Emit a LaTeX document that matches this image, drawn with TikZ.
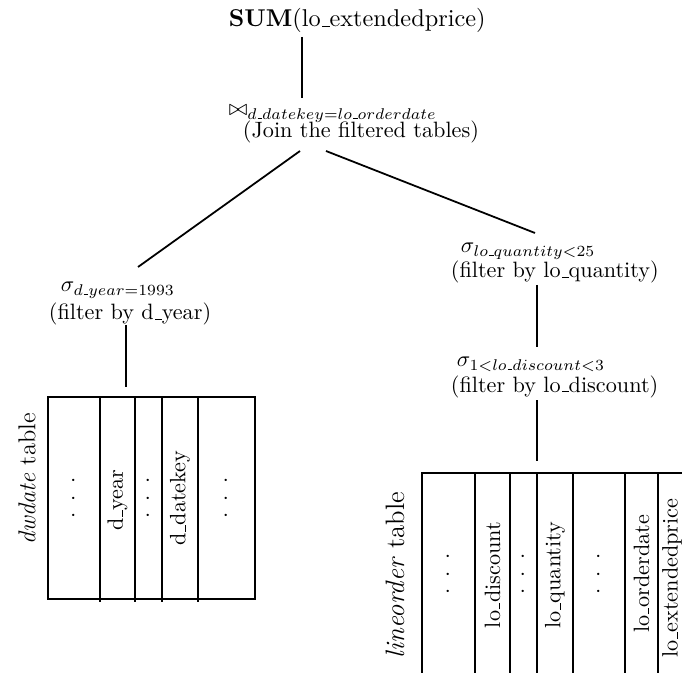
\documentclass[tikz,border=0pt]{standalone}
\usepackage{amsmath}
% short ruled underscore, usable in text and in subscripts
\newcommand\usrule{\leavevmode\kern.06em\vbox{\hrule width.3em}}
\renewcommand\_{\ifmmode\text{\usrule}\else\usrule\fi}
\newcommand\coldots{$\cdot$\hspace{5pt}$\cdot$\hspace{5pt}$\cdot$}
\begin{document}
\begin{tikzpicture}[x=0.4505pt,y=-0.4505pt,line width=0.8pt,
  txt/.style={inner sep=0pt,anchor=base west},
  col/.style={rotate=90,inner sep=0pt,anchor=center},
  tname/.style={rotate=90,inner sep=0pt,anchor=center},
  edge/.style={line width=0.8pt}]
\useasboundingbox (0,0) rectangle (682,673);
\clip (0,0) rectangle (682,673);

% operator tree
\node[txt,font=\fontsize{10.95}{13}\selectfont] (sum) at (228,27) {\textbf{SUM}(lo\_extendedprice)};
\node[txt] (joinop) at (228,116) {$\bowtie_{d\_datekey=lo\_orderdate}$};
\node[txt] (joinlbl) at (242,138) {(Join the filtered tables)};
\node[txt] (yearop) at (60,292) {$\sigma_{d\_year=1993}$};
\node[txt] (yearlbl) at (48,320) {(filter by d\_year)};
\node[txt] (qtyop) at (460,253) {$\sigma_{lo\_quantity<25}$};
\node[txt] (qtylbl) at (450,278) {(filter by lo\_quantity)};
\node[txt] (discop) at (456,367) {$\sigma_{1<lo\_discount<3}$};
\node[txt] (disclbl) at (450,392) {(filter by lo\_discount)};

% connector end points
\coordinate (sumfoot) at (302,37);
\coordinate (joinhead) at (302,98);
\coordinate (joinfootl) at (300,151);
\coordinate (joinfootr) at (326,151);
\coordinate (yearhead) at (138,267);
\coordinate (yearfoot) at (126,325);
\coordinate (dwtop) at (126,387);
\coordinate (qtyhead) at (535,233);
\coordinate (qtyfoot) at (537,285);
\coordinate (dischead) at (537,347);
\coordinate (discfoot) at (537,400);
\coordinate (lotop) at (537,461);

\draw[edge] (sumfoot) -- (joinhead);
\draw[edge] (joinfootl) -- (yearhead);
\draw[edge] (joinfootr) -- (qtyhead);
\draw[edge] (yearfoot) -- (dwtop);
\draw[edge] (qtyfoot) -- (dischead);
\draw[edge] (discfoot) -- (lotop);

% dwdate table
\draw (48,397) rectangle (255,599);
\foreach \x in {100,135,162,198} \draw (\x,397) -- (\x,602);
\node[tname,font=\fontsize{11}{13}\selectfont] (dwname) at (27,479) {\textit{dwdate} table};
\node[col] (dwa) at (74,498) {\coldots};
\node[col] (dwyear) at (117.5,500) {d\_year};
\node[col] (dwb) at (148.5,498) {\coldots};
\node[col] (dwkey) at (180,498) {d\_datekey};
\node[col] (dwc) at (226.5,498) {\coldots};

% lineorder table
\draw (422,675) -- (422,473) -- (686,473) -- (686,675);
\foreach \x in {475,510,537,573,625,658} \draw (\x,473) -- (\x,675);
\node[tname,font=\fontsize{12}{14}\selectfont] (loname) at (395,575) {\textit{lineorder} table};
\node[col] (loa) at (448.5,574) {\coldots};
\node[col] (lodisc) at (492.5,575) {lo\_discount};
\node[col] (lob) at (523.5,574) {\coldots};
\node[col] (loqty) at (555,575) {lo\_quantity};
\node[col] (loc) at (599,574) {\coldots};
\node[col] (loodate) at (641.5,574) {lo\_orderdate};
\node[col] (loprice) at (672,578) {lo\_extendedprice};
\end{tikzpicture}
\end{document}
